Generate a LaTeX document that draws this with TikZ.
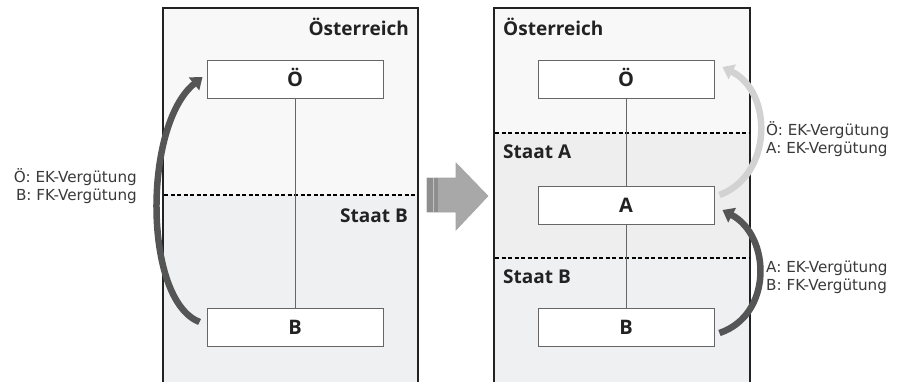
\documentclass[tikz,border=0pt]{standalone}
\usepackage{fontspec}
\setmainfont{Open Sans}
\newfontfamily\labfont{DejaVu Sans}
\usetikzlibrary{arrows.meta,calc}
\definecolor{panelA}{HTML}{F8F8F8}
\definecolor{panelB}{HTML}{EFF0F2}
\definecolor{panelC}{HTML}{EEEEEE}
\definecolor{frame}{HTML}{222222}
\definecolor{boxline}{HTML}{666666}
\definecolor{labtext}{HTML}{3A3A3A}
\definecolor{darkarrow}{HTML}{555555}
\definecolor{lightarrow}{HTML}{D2D2D2}
\definecolor{bigarrow}{HTML}{A8A8A8}
\definecolor{bigarrowdark}{HTML}{8E8E8E}
\begin{document}
\begin{tikzpicture}[x=1pt,y=-1pt,
  entity/.style={draw=boxline,line width=0.9pt,fill=white,minimum width=176pt,minimum height=38pt,inner sep=0pt,
    font=\fontsize{20}{20}\selectfont\bfseries,text=frame,text height=14.3pt,text depth=0pt},
  header/.style={inner sep=0pt,font=\fontsize{19}{19}\selectfont\bfseries,text=frame},
  flowlabel/.style={inner sep=0pt,font=\labfont\fontsize{15.2}{18.5}\selectfont,text=labtext},
  divider/.style={black,line width=1.1pt,dash pattern=on 4pt off 2.5pt},
  link/.style={draw=darkarrow!90,line width=0.8pt},
  curvedark/.style={draw=darkarrow,line width=6.5pt,-{Triangle[width=16pt,length=11pt]}},
  curvelight/.style={draw=lightarrow,line width=6.5pt,-{Triangle[width=16pt,length=11pt]}}]
\useasboundingbox (0,0) rectangle (904,381);
\fill[white] (0,0) rectangle (904,381);
% left panel
\fill[panelA] (163,7.5) rectangle (418,195);
\fill[panelB] (163,195) rectangle (418,382);
\draw[frame,line width=2pt] (163,382) -- (163,7.5) -- (418,7.5) -- (418,382);
\draw[divider] (164,195) -- (417,195);
% right panel
\fill[panelA] (494,7.5) rectangle (750,133);
\fill[panelC] (494,133) rectangle (750,258);
\fill[panelB] (494,258) rectangle (750,382);
\draw[frame,line width=2pt] (494,382) -- (494,7.5) -- (750,7.5) -- (750,382);
\draw[divider] (495,133) -- (749,133);
\draw[divider] (495,258) -- (749,258);
% headers
\node[header,anchor=base east] (hL) at (409,35) {Österreich};
\node[header,anchor=base east] (sbL) at (408,222) {Staat B};
\node[header,anchor=base west] (hR) at (503,35) {Österreich};
\node[header,anchor=base west] (saR) at (503,158) {Staat A};
\node[header,anchor=base west] (sbR) at (503,283) {Staat B};
% boxes
\node[entity] (oL) at (295,79) {Ö};
\node[entity] (bL) at (295,327) {B};
\node[entity] (oR) at (626,79) {Ö};
\node[entity] (aR) at (626,205) {A};
\node[entity] (bR) at (626,327) {B};
\draw[link] (oL.south) -- (bL.north);
\draw[link] (oR.south) -- (aR.north);
\draw[link] (aR.south) -- (bR.north);
% curved arrows
\draw[curvedark] ($(bL.west)+(-7,-5)$) .. controls (143,300) and (143,125) .. ($(oL.west)+(-4,-2)$);
\draw[curvelight] ($(aR.east)+(5,-10)$) .. controls (773,175) and (773,92) .. ($(oR.east)+(8,-12)$);
\draw[curvedark] ($(bR.east)+(5,6)$) .. controls (773,315) and (771,236) .. ($(aR.east)+(8,5)$);
% labels
\node[flowlabel,anchor=east,align=right] (labL) at (137,186) {Ö: EK-Vergütung\\B: FK-Vergütung};
\node[flowlabel,anchor=west,align=left] (labR1) at (766,139) {Ö: EK-Vergütung\\A: EK-Vergütung};
\node[flowlabel,anchor=west,align=left] (labR2) at (766,277.5) {A: EK-Vergütung\\B: FK-Vergütung};
% big transition arrow
\fill[bigarrow,draw=bigarrowdark!80,line width=0.6pt] (427,178) -- (456,178) -- (456,163) -- (488,196) -- (456,230) -- (456,212) -- (427,212) -- cycle;
\fill[bigarrowdark] (427,178.3) rectangle (438,211.7);
\draw[bigarrow!70!white,line width=1pt] (433,178.3) -- (433,211.7);
\end{tikzpicture}
\end{document}
